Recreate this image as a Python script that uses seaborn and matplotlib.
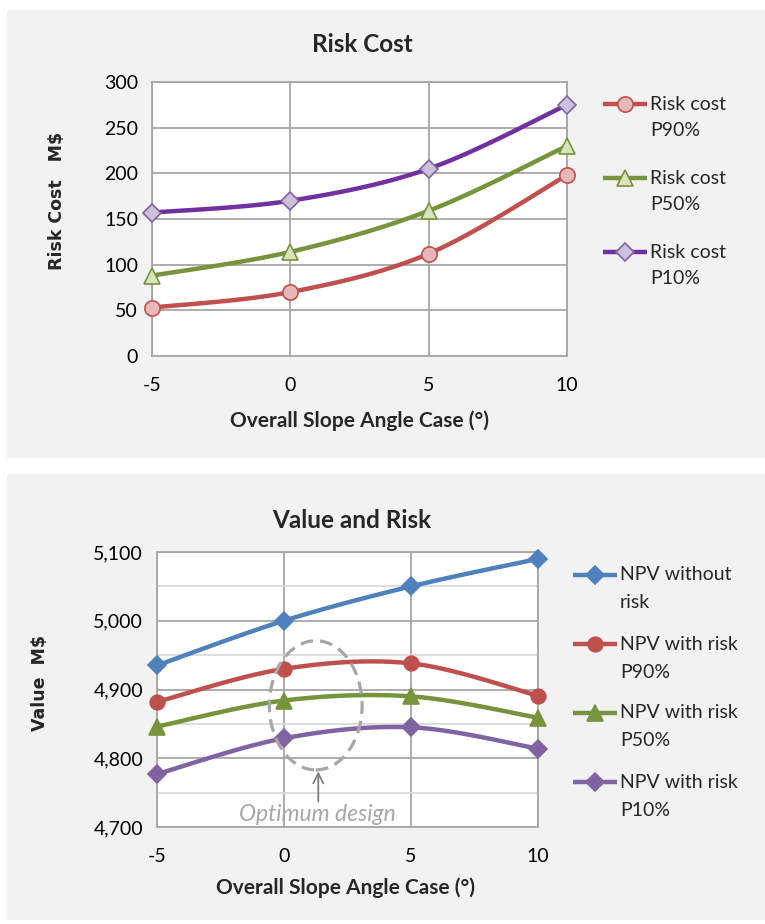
import numpy as np
import matplotlib
matplotlib.use("Agg")
import matplotlib.pyplot as plt
from matplotlib.lines import Line2D
from matplotlib.patches import Rectangle, Ellipse
from matplotlib.ticker import FuncFormatter, MultipleLocator
import seaborn as sns

# ---- data ----
angle_cases = [-5, 0, 5, 10]

risk_p90 = [53, 70, 112, 198]
risk_p50 = [88, 114, 159, 230]
risk_p10 = [157, 170, 205, 275]

npv_no_risk = [4935, 5000, 5050, 5090]
npv_p90 = [4882, 4930, 4938, 4891]
npv_p50 = [4846, 4884, 4890, 4859]
npv_p10 = [4777, 4829, 4845, 4814]

risk_labels = [("Risk cost", "P90%"), ("Risk cost", "P50%"), ("Risk cost", "P10%")]
npv_labels = [("NPV without", "risk"), ("NPV with risk", "P90%"),
              ("NPV with risk", "P50%"), ("NPV with risk", "P10%")]

sns.set_theme(style="white")
plt.rcParams["font.family"] = ["Lato", "DejaVu Sans"]
plt.rcParams["axes.unicode_minus"] = False

W, H = 765, 924
fig = plt.figure(figsize=(W / 100, H / 100), dpi=100)
fig.patch.set_facecolor("white")

PANEL = "#f2f2f2"
GRID = "#a6a6a6"
GRID_MINOR = "#dadada"


def fx(x):
    return x / W


def fy(y):
    return 1 - y / H


def px_axes(left, top, right, bottom):
    return fig.add_axes([fx(left), fy(bottom), (right - left) / W, (bottom - top) / H])


def smooth(xs, ys, n=40):
    """Bezier smoothing through the points (spreadsheet-style smoothed line)."""
    P = np.column_stack([xs, ys]).astype(float)
    out = []
    for i in range(len(P) - 1):
        p0 = P[i - 1] if i > 0 else P[i]
        p1, p2 = P[i], P[i + 1]
        p3 = P[i + 2] if i + 2 < len(P) else P[i + 1]
        c1 = p1 + (p2 - p0) / 6
        c2 = p2 - (p3 - p1) / 6
        t = np.linspace(0, 1, n)[:, None]
        seg = ((1 - t) ** 3) * p1 + 3 * ((1 - t) ** 2) * t * c1 + 3 * (1 - t) * t ** 2 * c2 + t ** 3 * p2
        out.append(seg if i == 0 else seg[1:])
    S = np.vstack(out)
    return S[:, 0], S[:, 1]


def draw_series(ax, ys, style):
    color, marker, mfc, mec, ms = style
    sx, sy = smooth(angle_cases, ys)
    sns.lineplot(x=sx, y=sy, ax=ax, color=color, lw=3.2, sort=False, estimator=None)
    ax.plot(angle_cases, ys, ls="none", marker=marker, ms=ms, mfc=mfc, mec=mec, mew=1.2,
            clip_on=False, zorder=5)


def draw_legend(styles, labels, x0, x1, xt, rows, dy):
    for style, (l1, l2), y in zip(styles, labels, rows):
        color, marker, mfc, mec, ms = style
        fig.add_artist(Line2D([fx(x0), fx(x1)], [fy(y), fy(y)], transform=fig.transFigure,
                              color=color, lw=3.2, solid_capstyle="butt"))
        fig.add_artist(Line2D([fx((x0 + x1) / 2)], [fy(y)], transform=fig.transFigure,
                              ls="none", marker=marker, ms=ms, mfc=mfc, mec=mec, mew=1.2))
        fig.text(fx(xt), fy(y), l1, ha="left", va="center", fontsize=14)
        fig.text(fx(xt), fy(y + dy), l2, ha="left", va="center", fontsize=14)


def style_axes(ax):
    ax.set_facecolor("white")
    for s in ax.spines.values():
        s.set_color(GRID)
        s.set_linewidth(1.3)
    ax.set_xlim(-5, 10)
    ax.set_xticks(angle_cases)
    ax.tick_params(axis="both", which="major", length=6, width=1.3, color=GRID,
                   labelsize=14, labelcolor="black", pad=4, direction="out")
    ax.tick_params(axis="x", pad=9)
    ax.grid(True, which="major", color=GRID, lw=1.3)
    ax.set_axisbelow(True)
    ax.set_xlabel("")
    ax.set_ylabel("")


# ---- panel backgrounds ----
fig.patches.append(Rectangle((fx(7), fy(458)), 1 - fx(7), 448 / H, transform=fig.transFigure,
                             facecolor=PANEL, edgecolor="none", zorder=-10))
fig.patches.append(Rectangle((fx(7), fy(920)), 1 - fx(7), 446 / H, transform=fig.transFigure,
                             facecolor=PANEL, edgecolor="none", zorder=-10))

# ---- top chart: risk cost ----
risk_styles = [
    ("#c0504d", "o", "#e6b9b8", "#c0504d", 11),
    ("#77933c", "^", "#d7e4bd", "#77933c", 12),
    ("#7030a0", "D", "#ccc1da", "#8064a2", 9),
]
ax1 = px_axes(152, 82, 567, 356)
for ys, st in zip([risk_p90, risk_p50, risk_p10], risk_styles):
    draw_series(ax1, ys, st)
style_axes(ax1)
ax1.set_ylim(0, 300)
ax1.set_yticks(range(0, 301, 50))

fig.text(fx(362), fy(45), "Risk Cost", ha="center", va="center", fontsize=17.5, fontweight="bold")
fig.text(fx(360), fy(421), "Overall Slope Angle Case (°)", ha="center", va="center",
         fontsize=15, fontweight="bold")
fig.text(fx(57), fy(201), "Risk Cost   M$", ha="center", va="center", rotation=90,
         fontsize=12.5, fontweight="bold", family=["DejaVu Sans"])
draw_legend(risk_styles, risk_labels, 603, 647, 650, [104, 178, 252], 27)

# ---- bottom chart: value and risk ----
npv_styles = [
    ("#4f81bd", "D", "#4f81bd", "#4f81bd", 9),
    ("#c0504d", "o", "#c0504d", "#c0504d", 10.5),
    ("#77933c", "^", "#77933c", "#77933c", 11),
    ("#8064a2", "D", "#8064a2", "#8064a2", 9),
]
ax2 = px_axes(157, 552, 538, 827)
for ys, st in zip([npv_no_risk, npv_p90, npv_p50, npv_p10], npv_styles):
    draw_series(ax2, ys, st)
style_axes(ax2)
ax2.set_ylim(4700, 5100)
ax2.yaxis.set_major_locator(MultipleLocator(100))
ax2.yaxis.set_minor_locator(MultipleLocator(50))
ax2.yaxis.set_major_formatter(FuncFormatter(lambda v, p: f"{v:,.0f}"))
ax2.tick_params(axis="y", which="minor", length=0)
ax2.grid(True, which="minor", axis="y", color=GRID_MINOR, lw=1.3)

fig.text(fx(352), fy(520), "Value and Risk", ha="center", va="center", fontsize=17.5,
         fontweight="bold")
fig.text(fx(346), fy(888), "Overall Slope Angle Case (°)", ha="center", va="center",
         fontsize=15, fontweight="bold")
fig.text(fx(40), fy(683), "Value  M$", ha="center", va="center", rotation=90,
         fontsize=12.5, fontweight="bold", family=["DejaVu Sans"])
draw_legend(npv_styles, npv_labels, 573, 617, 620, [575, 644, 713, 782], 28)

# optimum design callout
ax2.add_patch(Ellipse((1.25, 4877), 3.65, 188, fill=False, ec="#a6a6a6", lw=2.3,
                      ls=(0, (4, 2.2)), zorder=6))
ax2.annotate("", xy=(1.35, 4785), xytext=(1.35, 4733),
             arrowprops=dict(arrowstyle="->", color="#7f7f7f", lw=1.3, mutation_scale=18),
             zorder=6)
ax2.text(1.3, 4718, "Optimum design", ha="center", va="center", fontsize=16.5,
         style="italic", color="#a6a6a6", zorder=6)

fig.savefig("out.png", dpi=100, facecolor="white")
